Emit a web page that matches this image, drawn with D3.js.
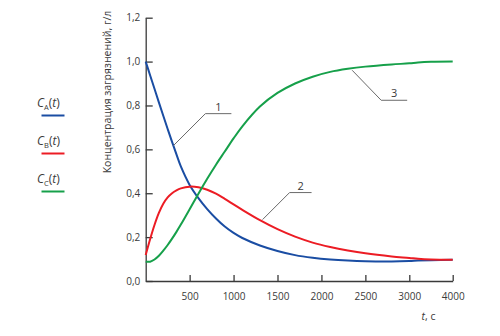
<!DOCTYPE html>
<html>
<head>
<meta charset="utf-8">
<script src="https://cdn.jsdelivr.net/npm/d3@7"></script>
<style>
  html, body { margin: 0; padding: 0; background: #fff; }
  svg { display: block; font-family: "Open Sans", "Noto Sans", sans-serif; }
</style>
</head>
<body>
<svg id="chart" width="500" height="336"></svg>
<script>
// ---- data ----
const timeSec = [0, 50, 100, 150, 200, 250, 300, 350, 400, 500, 600, 700, 800, 900, 1000, 1100, 1300, 1500, 1700, 1900, 2100, 2300, 2500, 2800, 3000, 3200, 3500, 4000];
const seriesA = [1.0, 0.938, 0.876, 0.814, 0.753, 0.693, 0.634, 0.577, 0.522, 0.438, 0.378, 0.328, 0.285, 0.248, 0.219, 0.196, 0.162, 0.137, 0.118, 0.106, 0.098, 0.093, 0.090, 0.089, 0.091, 0.093, 0.095, 0.097];
const seriesB = [0.118, 0.19, 0.255, 0.31, 0.352, 0.381, 0.40, 0.413, 0.422, 0.430, 0.427, 0.416, 0.398, 0.374, 0.349, 0.324, 0.277, 0.236, 0.202, 0.175, 0.155, 0.139, 0.126, 0.112, 0.105, 0.101, 0.098, 0.097];
const seriesC = [0.088, 0.088, 0.098, 0.115, 0.138, 0.164, 0.193, 0.224, 0.257, 0.327, 0.398, 0.466, 0.530, 0.590, 0.650, 0.705, 0.795, 0.857, 0.900, 0.931, 0.953, 0.967, 0.977, 0.987, 0.992, 0.996, 0.999, 1.0];
const seriesSubs = ["A", "B", "C"];
const seriesNumbers = ["1", "2", "3"];
const xTicks = [500, 1000, 1500, 2000, 2500, 3000, 4000];
const yTicks = [0, 0.2, 0.4, 0.6, 0.8, 1.0, 1.2];
const yTitle = "Концентрация загрязнений, г/л";
// times on each curve where the numbered leaders start
const leaderAnchorT = [315, 1330, 2350];

// ---- styles ----
const colors = ["#1a4da3", "#ec1c24", "#16a04a"];
const axisColor = "#3a3a3a";
const textColor = "#3a3a3a";

const svg = d3.select("#chart");

const x = d3.scaleLinear().domain([0, 3000, 4000]).range([145.7, 409.3, 452.7]);
const y = d3.scaleLinear().domain([0, 1.2]).range([281, 17.7]);

// axes
const xAxis = d3.axisBottom(x).tickValues(xTicks).tickFormat(d3.format("d"))
  .tickSizeInner(-6).tickSizeOuter(0).tickPadding(12);
const gx = svg.append("g").attr("transform", `translate(0,${y(0)})`).call(xAxis);

const yAxis = d3.axisLeft(y).tickValues(yTicks)
  .tickFormat(d => d3.format(".1f")(d).replace(".", ","))
  .tickSizeInner(-7).tickSizeOuter(0).tickPadding(5.5);
const gy = svg.append("g").attr("transform", `translate(${x(0)},0)`).call(yAxis);

[gx, gy].forEach(g => {
  g.select(".domain").attr("stroke", axisColor).attr("stroke-width", 1.3);
  g.selectAll(".tick line").attr("stroke", axisColor).attr("stroke-width", 1.3);
  g.selectAll(".tick text").attr("fill", textColor).attr("font-size", 10)
    .attr("font-family", '"Open Sans", sans-serif');
});
gx.selectAll(".tick text").attr("dy", "0.71em");

// y-axis title
svg.append("text")
  .attr("transform", "translate(111,92) rotate(-90)")
  .attr("text-anchor", "middle")
  .attr("font-size", 10.5)
  .attr("fill", textColor)
  .text(yTitle);

// x-axis title
const xt = svg.append("text").attr("x", 421.5).attr("y", 320)
  .attr("font-size", 10.5).attr("fill", textColor);
xt.append("tspan").attr("font-style", "italic").text("t");
xt.append("tspan").text(", с");

// curves
const allSeries = [seriesA, seriesB, seriesC];
const line = d3.line()
  .x(d => x(d[0]))
  .y(d => y(d[1]))
  .curve(d3.curveCatmullRom.alpha(0.5));

allSeries.forEach((vals, i) => {
  svg.append("path")
    .datum(timeSec.map((t, k) => [t, vals[k]]))
    .attr("fill", "none")
    .attr("stroke", colors[i])
    .attr("stroke-width", 2)
    .attr("d", line);
});

// numbered leader lines
const interp = (vals, t) => {
  for (let k = 0; k < timeSec.length - 1; k++) {
    if (t >= timeSec[k] && t <= timeSec[k + 1]) {
      const f = (t - timeSec[k]) / (timeSec[k + 1] - timeSec[k]);
      return vals[k] + f * (vals[k + 1] - vals[k]);
    }
  }
  return vals[vals.length - 1];
};
const leaderOffsets = [
  { dx: 32, dy: -32, len: 26 },
  { dx: 27, dy: -27, len: 22 },
  { dx: 29, dy: 30, len: 26 }
];
leaderAnchorT.forEach((t, i) => {
  const px = x(t), py = y(interp(allSeries[i], t)) + (i === 2 ? 2 : (i === 0 ? 0 : -2));
  const o = leaderOffsets[i];
  const ex = px + o.dx, ey = py + o.dy;
  svg.append("path")
    .attr("d", `M${px},${py}L${ex},${ey}H${ex + o.len}`)
    .attr("fill", "none").attr("stroke", "#6a6a6a").attr("stroke-width", 1);
  svg.append("text")
    .attr("x", ex + o.len / 2).attr("y", ey - 3)
    .attr("text-anchor", "middle")
    .attr("font-size", 11).attr("fill", textColor)
    .text(seriesNumbers[i]);
});

// legend
seriesSubs.forEach((s, i) => {
  const ty = 106.5 + i * 38;
  const t = svg.append("text").attr("x", 37).attr("y", ty)
    .attr("font-size", 12).attr("fill", textColor);
  t.append("tspan").attr("font-style", "italic").text("C");
  t.append("tspan").attr("font-size", 7.5).attr("dy", 3).text(s);
  t.append("tspan").attr("dy", -3).text("(");
  t.append("tspan").attr("font-style", "italic").text("t");
  t.append("tspan").text(")");
  svg.append("line")
    .attr("x1", 41.5).attr("x2", 64.5)
    .attr("y1", ty + 9).attr("y2", ty + 9)
    .attr("stroke", colors[i]).attr("stroke-width", 2);
});
</script>
</body>
</html>
